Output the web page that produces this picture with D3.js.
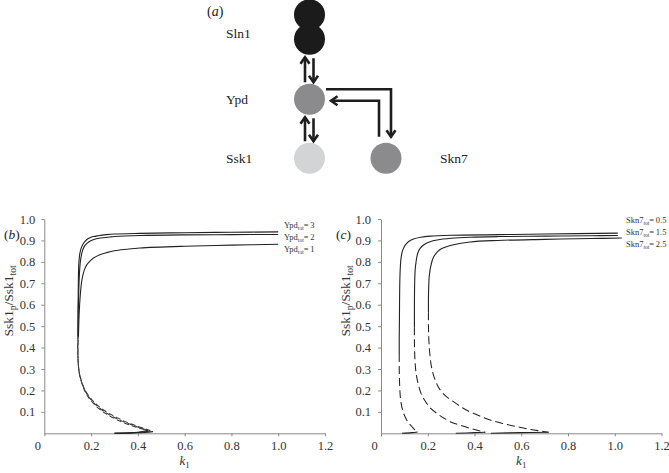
<!DOCTYPE html>
<html>
<head>
<meta charset="utf-8">
<script src="https://cdn.jsdelivr.net/npm/d3@7"></script>
<style>
  body { margin: 0; background: #fff; }
  svg { display: block; }
</style>
</head>
<body>
<svg id="fig" width="669" height="473"></svg>
<script>
// ---- data ----
const species = ['Sln1', 'Ypd', 'Ssk1', 'Skn7']

const xTicks = [0, 0.2, 0.4, 0.6, 0.8, 1.0, 1.2]
const yTicks = [0.1, 0.2, 0.3, 0.4, 0.5, 0.6, 0.7, 0.8, 0.9, 1.0]

// panel (b): Ypd_tot = 3, 2, 1
const ypdLabels = ['3', '2', '1']
const ypdUpper = [
  [[1.0, 0.940], [0.8, 0.938], [0.6, 0.936], [0.409, 0.933], [0.3, 0.930], [0.266, 0.927], [0.23, 0.922], [0.21, 0.918], [0.195, 0.912], [0.18, 0.902], [0.167, 0.886], [0.158, 0.865], [0.152, 0.84], [0.148, 0.8], [0.146, 0.74], [0.145, 0.65], [0.144, 0.55], [0.144, 0.45]],
  [[1.0, 0.928], [0.8, 0.927], [0.6, 0.926], [0.409, 0.923], [0.3, 0.918], [0.28, 0.916], [0.24, 0.911], [0.209, 0.903], [0.19, 0.893], [0.174, 0.877], [0.165, 0.858], [0.16, 0.838], [0.154, 0.8], [0.15, 0.74], [0.147, 0.65], [0.145, 0.55], [0.144, 0.45]],
  [[1.0, 0.882], [0.8, 0.878], [0.6, 0.873], [0.409, 0.865], [0.352, 0.859], [0.3, 0.852], [0.266, 0.843], [0.235, 0.832], [0.209, 0.817], [0.195, 0.803], [0.181, 0.785], [0.172, 0.765], [0.167, 0.747], [0.16, 0.71], [0.155, 0.66], [0.151, 0.6], [0.148, 0.53], [0.146, 0.45]]
]
const ypdUnstable = [
  [[0.144, 0.45], [0.143, 0.40], [0.145, 0.33], [0.15, 0.28], [0.16, 0.24], [0.175, 0.2], [0.195, 0.168], [0.224, 0.134], [0.26, 0.104], [0.3, 0.079], [0.35, 0.053], [0.4, 0.032], [0.44, 0.018], [0.465, 0.008]],
  [[0.144, 0.45], [0.143, 0.40], [0.145, 0.33], [0.15, 0.28], [0.16, 0.238], [0.175, 0.197], [0.195, 0.163], [0.224, 0.129], [0.26, 0.099], [0.3, 0.074], [0.35, 0.049], [0.4, 0.029], [0.452, 0.011]],
  [[0.146, 0.45], [0.144, 0.40], [0.145, 0.33], [0.15, 0.278], [0.16, 0.235], [0.175, 0.193], [0.195, 0.158], [0.224, 0.124], [0.26, 0.094], [0.3, 0.069], [0.35, 0.045], [0.4, 0.026], [0.443, 0.014]]
]
const ypdLower = [
  [[0.3, 0.0], [0.38, 0.002], [0.43, 0.004], [0.465, 0.008]],
  [[0.3, 0.0], [0.4, 0.004], [0.452, 0.011]],
  [[0.3, 0.0], [0.4, 0.005], [0.443, 0.014]]
]

// panel (c): Skn7_tot = 0.5, 1.5, 2.5
const skn7Labels = ['0.5', '1.5', '2.5']
const skn7Upper = [
  [[1.013, 0.934], [0.7, 0.930], [0.5, 0.927], [0.3, 0.924], [0.21, 0.92], [0.17, 0.915], [0.139, 0.907], [0.117, 0.894], [0.103, 0.877], [0.093, 0.855], [0.086, 0.82], [0.082, 0.76], [0.08, 0.68], [0.079, 0.55], [0.078, 0.45], [0.078, 0.37]],
  [[1.013, 0.923], [0.9, 0.922], [0.7, 0.92], [0.5, 0.918], [0.381, 0.915], [0.3, 0.91], [0.24, 0.902], [0.21, 0.894], [0.182, 0.879], [0.168, 0.864], [0.157, 0.84], [0.15, 0.8], [0.146, 0.76], [0.144, 0.7], [0.143, 0.6], [0.143, 0.495]],
  [[1.03, 0.911], [0.9, 0.909], [0.7, 0.905], [0.5, 0.9], [0.381, 0.893], [0.31, 0.88], [0.26, 0.862], [0.24, 0.845], [0.224, 0.82], [0.215, 0.79], [0.207, 0.74], [0.204, 0.68], [0.203, 0.622], [0.203, 0.565]]
]
const skn7Unstable = [
  [[0.078, 0.37], [0.078, 0.3], [0.08, 0.22], [0.084, 0.155], [0.092, 0.11], [0.103, 0.077], [0.116, 0.052], [0.131, 0.033], [0.145, 0.016], [0.157, 0.006]],
  [[0.143, 0.495], [0.143, 0.42], [0.145, 0.35], [0.149, 0.29], [0.157, 0.24], [0.17, 0.19], [0.186, 0.155], [0.21, 0.12], [0.239, 0.093], [0.27, 0.07], [0.296, 0.054], [0.34, 0.037], [0.381, 0.023], [0.42, 0.012], [0.446, 0.005]],
  [[0.203, 0.565], [0.203, 0.5], [0.205, 0.43], [0.209, 0.37], [0.216, 0.31], [0.228, 0.26], [0.246, 0.215], [0.27, 0.18], [0.31, 0.148], [0.35, 0.118], [0.381, 0.1], [0.424, 0.08], [0.467, 0.062], [0.52, 0.046], [0.581, 0.031], [0.64, 0.018], [0.68, 0.011], [0.717, 0.005]]
]
const skn7Lower = [
  [[0.09, 0.0], [0.13, 0.003], [0.157, 0.006]],
  [[0.32, 0.0], [0.4, 0.003], [0.446, 0.005]],
  [[0.47, 0.0], [0.6, 0.003], [0.717, 0.005]]
]

// ---- drawing ----
const serif = '"Liberation Serif"'
const svg = d3.select('#fig').style('font-family', serif)
const ink = '#222'
const axisGrey = '#8a8a8a'

function drawPanel (opts) {
  const x = d3.scaleLinear().domain([0, 1.2]).range([opts.left, opts.right])
  const y = d3.scaleLinear().domain([0, 1]).range([433.3, 219])
  const g = svg.append('g')

  const xAxis = d3.axisBottom(x)
    .tickValues(xTicks)
    .tickSize(3)
    .tickSizeOuter(0)
    .tickPadding(5)
    .tickFormat(d => d === 0 ? '0' : d3.format('.1f')(d))

  const yAxis = d3.axisLeft(y)
    .tickValues(yTicks)
    .tickSize(3)
    .tickSizeOuter(0)
    .tickPadding(opts.yPad)
    .tickFormat(d3.format('.1f'))

  const gx = g.append('g').attr('transform', `translate(0,${y(0)})`).call(xAxis)
  const gy = g.append('g').attr('transform', `translate(${x(0)},0)`).call(yAxis)
  for (const a of [gx, gy]) {
    a.select('.domain').attr('stroke', axisGrey)
    a.selectAll('.tick line').attr('stroke', axisGrey)
    a.selectAll('.tick text')
      .attr('fill', '#333')
      .style('font-family', serif)
      .style('font-size', '12.5px')
  }
  gx.selectAll('.tick text').filter(d => d === 0).attr('dx', -7)

  const line = d3.line()
    .x(d => x(d[0]))
    .y(d => y(d[1]))
    .curve(d3.curveCatmullRom.alpha(0.5))

  opts.upper.forEach(s => {
    g.append('path').attr('d', line(s)).attr('fill', 'none')
      .attr('stroke', ink).attr('stroke-width', 1.1)
  })
  opts.unstable.forEach((s, i) => {
    g.append('path').attr('d', line(s)).attr('fill', 'none')
      .attr('stroke', opts.dashInk).attr('stroke-width', 1.05)
      .attr('stroke-dasharray', opts.dash)
      .attr('stroke-dashoffset', i * opts.dashShift)
  })
  opts.lower.forEach(s => {
    g.append('path').attr('d', line(s)).attr('fill', 'none')
      .attr('stroke', ink).attr('stroke-width', 1.1)
  })

  // series labels
  opts.labels.forEach((lab, i) => {
    const t = g.append('text')
      .attr('x', opts.legendX)
      .attr('y', opts.legendY[i])
      .style('font-family', serif)
      .style('font-size', '8.5px')
      .attr('fill', '#333')
    t.append('tspan').text(opts.legendName)
    t.append('tspan').text('tot').attr('dy', 2.2).style('font-size', '5.5px')
    t.append('tspan').text('=\u2009' + lab).attr('dy', -2.2)
  })

  // x title
  const xt = g.append('text')
    .attr('x', (opts.left + opts.right) / 2)
    .attr('y', 465)
    .attr('text-anchor', 'middle')
    .style('font-family', serif)
    .style('font-size', '13px')
    .attr('fill', '#333')
  xt.append('tspan').text('k').style('font-style', 'italic')
  xt.append('tspan').text('1').attr('dy', 3).style('font-size', '9px')

  // y title
  const yt = g.append('text')
    .attr('transform', `translate(${opts.yTitleX},301) rotate(-90)`)
    .attr('text-anchor', 'middle')
    .style('font-family', serif)
    .style('font-size', '13.5px')
    .attr('fill', '#333')
  yt.append('tspan').text('Ssk1')
  yt.append('tspan').text('p').attr('dy', 3).style('font-size', '9.5px')
  yt.append('tspan').text('/Ssk1').attr('dy', -3)
  yt.append('tspan').text('tot').attr('dy', 3).style('font-size', '9.5px')

  // panel letter
  const pl = svg.append('text')
    .attr('x', opts.letterX).attr('y', 239)
    .style('font-family', serif)
    .style('font-size', '13.5px').attr('fill', '#222')
  pl.append('tspan').text('(')
  pl.append('tspan').text(opts.letter).style('font-style', 'italic')
  pl.append('tspan').text(')')
}

drawPanel({
  left: 44.3, right: 325, yPad: 6,
  upper: ypdUpper, unstable: ypdUnstable, lower: ypdLower,
  dash: '5,3', dashShift: 2.5, dashInk: '#3a3a3a',
  labels: ypdLabels, legendName: 'Ypd', legendX: 284, legendY: [228, 240, 252],
  yTitleX: 13, letter: 'b', letterX: 4
})

drawPanel({
  left: 381, right: 661.5, yPad: 7,
  upper: skn7Upper, unstable: skn7Unstable, lower: skn7Lower,
  dash: '8,4', dashShift: 0, dashInk: ink,
  labels: skn7Labels, legendName: 'Skn7', legendX: 626, legendY: [223, 235, 247],
  yTitleX: 350, letter: 'c', letterX: 336
})

// ---- panel (a): network diagram ----
const col = d3.scaleLinear().domain([0, 1]).range([309.5, 386])
const row = d3.scaleLinear().domain([0, 1, 2]).range([27, 99.3, 158.3])
const r = 15.5
const fills = { Sln1: '#1b1b1b', Ypd: '#8b8b8d', Ssk1: '#d3d4d6', Skn7: '#8b8b8d' }
const place = { Sln1: [0, 0], Ypd: [0, 1], Ssk1: [0, 2], Skn7: [1, 2] }
const dg = svg.append('g')

species.forEach(name => {
  const [c, rw] = place[name]
  const cx = col(c)
  const cy = row(rw)
  const centres = name === 'Sln1' ? [cy - 12.2, cy + 12.2] : [cy]
  centres.forEach(yy => {
    dg.append('circle').attr('cx', cx).attr('cy', yy).attr('r', r).attr('fill', fills[name])
  })
  dg.append('text')
    .attr('x', c === 0 ? 226 : 440)
    .attr('y', cy + (name === 'Sln1' ? 10.5 : 5))
    .style('font-family', serif)
    .style('font-size', '13.5px')
    .attr('fill', '#222')
    .text(name)
})

const arrowPaths = []
function chevron (tx, ty, dir) {
  const a = 6.5
  const b = 4.5
  if (dir === 'down') return `M${tx - b},${ty - a}L${tx},${ty}L${tx + b},${ty - a}`
  if (dir === 'up') return `M${tx - b},${ty + a}L${tx},${ty}L${tx + b},${ty + a}`
  return `M${tx + a},${ty - b}L${tx},${ty}L${tx + a},${ty + b}`
}
// vertical pairs
const sln1Low = row(0) + 12.2
const pairs = [[sln1Low, row(1)], [row(1), row(2)]]
pairs.forEach(([top, bot]) => {
  const xu = col(0) - 4.5
  const xd = col(0) + 4
  const y0 = top + r + 1.5
  const y1 = bot - r - 1.5
  arrowPaths.push(`M${xu},${y1}L${xu},${y0 + 1}`, chevron(xu, y0 + 1, 'up'))
  arrowPaths.push(`M${xd},${y0 + 2}L${xd},${y1}`, chevron(xd, y1, 'down'))
})
// Ypd -> Skn7
const ox = col(1) + 5
arrowPaths.push(`M${col(0) + r + 1},${row(1) - 10}L${ox},${row(1) - 10}L${ox},${row(2) - r - 6}`)
arrowPaths.push(chevron(ox, row(2) - r - 6, 'down'))
// Skn7 -> Ypd
const ix = col(1) - 7
arrowPaths.push(`M${ix},${row(2) - r - 6}L${ix},${row(1) + 1.5}L${col(0) + r + 6},${row(1) + 1.5}`)
arrowPaths.push(chevron(col(0) + r + 6, row(1) + 1.5, 'left'))

dg.selectAll('path.arrow').data(arrowPaths).join('path')
  .attr('class', 'arrow')
  .attr('d', d => d)
  .attr('fill', 'none')
  .attr('stroke', '#1e1e1e')
  .attr('stroke-width', 2.6)
  .attr('stroke-linejoin', 'miter')

const al = svg.append('text').attr('x', 207).attr('y', 16)
  .style('font-family', serif)
  .style('font-size', '14px').attr('fill', '#222')
al.append('tspan').text('(')
al.append('tspan').text('a').style('font-style', 'italic')
al.append('tspan').text(')')
</script>
</body>
</html>
